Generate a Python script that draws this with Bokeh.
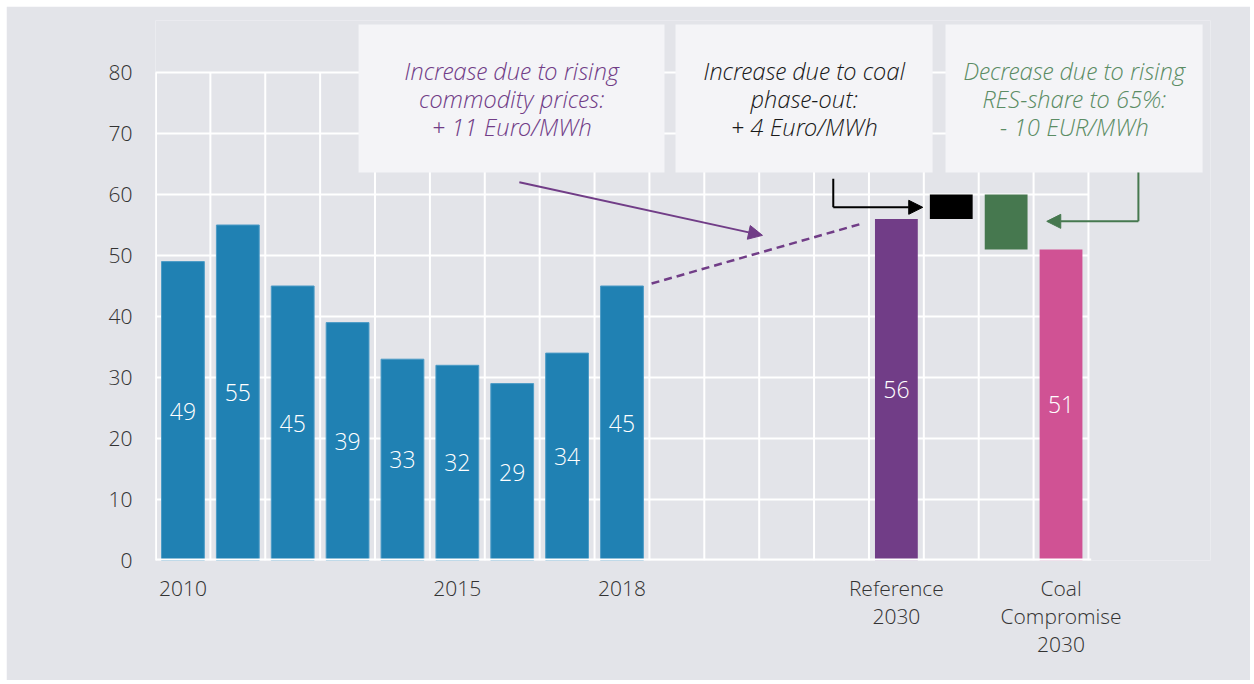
import math
from bokeh.plotting import figure
from bokeh.models import Range1d, FixedTicker, Label, Arrow, NormalHead
from bokeh.core.properties import value
from bokeh.embed import file_html
from bokeh.resources import INLINE

# ---------------- data ----------------
years = ["2010", "2011", "2012", "2013", "2014", "2015", "2016", "2017", "2018"]
prices = [49, 55, 45, 39, 33, 32, 29, 34, 45]
reference_2030 = 56
coal_phaseout_delta = 4
compromise_2030 = 51
tick_labels = {0: "2010", 5: "2015", 8: "2018", 13: "Reference\n2030", 16: "Coal\nCompromise\n2030"}
box_texts = [
    ["Increase due to rising", "commodity prices:", "+ 11 Euro/MWh"],
    ["Increase due to coal", "phase-out:", "+ 4 Euro/MWh"],
    ["Decrease due to rising", "RES-share to 65%:", "- 10 EUR/MWh"],
]

# slot positions
year_x = list(range(len(years)))
ref_x, coal_x, res_x, comp_x = 13, 14, 15, 16
N_SLOTS = 17

FONT = "'Open Sans Light', 'Open Sans'"
BG = "#e3e4e9"
BOX = "#f4f4f7"
BLUE = "#2081b3"
PURPLE = "#713d87"
GREEN = "#46784f"
PINK = "#d05294"

X_END = -0.5 + 1055 / 54.88
Y_END = 540 / 6.1

p = figure(width=1244, height=674, output_backend="svg", toolbar_location=None,
           x_range=Range1d(-0.5, X_END), y_range=Range1d(0, Y_END),
           min_border_left=149, min_border_right=40, min_border_top=14, min_border_bottom=120)
p.margin = (6, 0, 0, 6)
p.title.visible = False
p.background_fill_color = BG
p.border_fill_color = BG
p.outline_line_color = None
p.xgrid.visible = False
p.ygrid.visible = False

# gridlines
hx = list(range(10, 81, 10))
p.segment(x0=[-0.5] * len(hx), x1=[N_SLOTS - 0.5] * len(hx), y0=hx, y1=hx, line_color="white", line_width=2)
vx = [i - 0.5 for i in range(N_SLOTS + 1)]
p.segment(x0=vx, x1=vx, y0=[0] * len(vx), y1=[80] * len(vx), line_color="white", line_width=2)
p.segment(x0=[-0.5], x1=[-0.5], y0=[0], y1=[80], line_color="white", line_width=3)

# annotation boxes
p.quad(left=[3.2, 8.975, 13.895], right=[8.775, 13.66, 18.58],
       bottom=[63.6] * 3, top=[87.87] * 3, fill_color=BOX, line_color=None)

# bars
W = 0.78
p.vbar(x=year_x, top=prices, width=W, bottom=0, fill_color=BLUE, line_color="#4c9bc6", line_width=1)
p.vbar(x=[ref_x], top=[reference_2030], width=W, bottom=0, fill_color=PURPLE, line_color=None)
p.vbar(x=[coal_x], top=[reference_2030 + coal_phaseout_delta], bottom=[reference_2030], width=W,
       fill_color="black", line_color=None)
p.vbar(x=[res_x], top=[reference_2030 + coal_phaseout_delta], bottom=[compromise_2030], width=W,
       fill_color=GREEN, line_color=None)
p.vbar(x=[comp_x], top=[compromise_2030], width=W, bottom=0, fill_color=PINK, line_color=None)

# bottom axis line
p.segment(x0=[-0.5], x1=[N_SLOTS - 0.45], y0=[0], y1=[0], line_color="white", line_width=4)

# value labels
lab_x = year_x + [ref_x, comp_x]
lab_v = prices + [reference_2030, compromise_2030]
p.text(x=lab_x, y=[v / 2 for v in lab_v], text=[str(v) for v in lab_v], text_color="white",
       text_align="center", text_baseline="middle", text_font=value(FONT), text_font_size="23px")

# box texts
text_cols = [PURPLE, "#1a1a1a", "#5b8c64"]
text_cx = [5.99, 11.32, 16.24]
line_y = [80.33, 75.74, 71.15]
for cx, lines, col in zip(text_cx, box_texts, text_cols):
    p.text(x=[cx] * 3, y=line_y, text=lines, text_color=col, text_align="center",
           text_baseline="middle", text_font=value(FONT), text_font_style="italic",
           text_font_size="24px")

# dashed connector 2018 -> reference
p.line(x=[8.54, 12.36], y=[45.4, 55.2], line_color=PURPLE, line_width=2.5, line_dash="8 5")

# purple arrow
p.add_layout(Arrow(end=NormalHead(size=14, fill_color=PURPLE, line_color=PURPLE),
                   x_start=6.13, y_start=62.0, x_end=10.56, y_end=53.3,
                   line_color=PURPLE, line_width=2))
# black elbow arrow
p.segment(x0=[11.85], x1=[11.85], y0=[62.6], y1=[57.9], line_color="black", line_width=2)
p.add_layout(Arrow(end=NormalHead(size=14, fill_color="black", line_color="black"),
                   x_start=11.85, y_start=57.9, x_end=13.48, y_end=57.9,
                   line_color="black", line_width=2))
# green elbow arrow
p.segment(x0=[17.41], x1=[17.41], y0=[63.6], y1=[55.6], line_color=GREEN, line_width=2)
p.add_layout(Arrow(end=NormalHead(size=14, fill_color=GREEN, line_color=GREEN),
                   x_start=17.41, y_start=55.6, x_end=15.74, y_end=55.6,
                   line_color=GREEN, line_width=2))

# axes
p.yaxis.ticker = FixedTicker(ticks=list(range(0, 81, 10)))
p.yaxis.axis_line_color = None
p.yaxis.major_tick_line_color = None
p.yaxis.minor_tick_line_color = None
p.yaxis.major_label_text_font = FONT
p.yaxis.major_label_text_font_size = "21px"
p.yaxis.major_label_text_color = "#333333"
p.yaxis.major_label_standoff = 17

p.xaxis.ticker = FixedTicker(ticks=list(tick_labels.keys()))
p.xaxis.major_label_overrides = {k: v for k, v in tick_labels.items()}
p.xaxis.axis_line_color = None
p.xaxis.major_tick_line_color = None
p.xaxis.minor_tick_line_color = None
p.xaxis.major_label_text_font = FONT
p.xaxis.major_label_text_font_size = "21px"
p.xaxis.major_label_text_line_height = 1.0
p.xaxis.major_label_text_color = "#333333"
p.xaxis.major_label_standoff = 7

p.add_layout(Label(x=-1.94, y=40, text="Euro/ MWh (real2017)", angle=math.pi / 2,
                   text_align="center", text_baseline="middle", text_font=FONT,
                   text_font_size="20px", text_color="#333333"))

open("out.html", "w").write(file_html(p, INLINE))
